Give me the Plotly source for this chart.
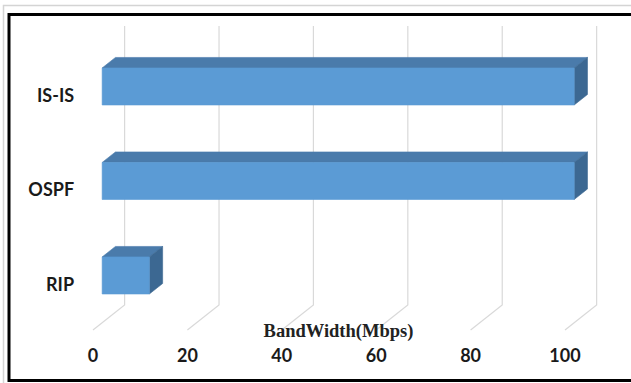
import plotly.graph_objects as go

# Data
categories = ["RIP", "OSPF", "IS-IS"]
bandwidth = [10, 100, 100]
tick_values = [0, 20, 40, 60, 80, 100]
tick_labels = ["0", "20", "40", "60", "80", "100"]
axis_title = "BandWidth(Mbps)"

# Figure size and oblique (pseudo-3D) projection settings, in data units
W, H = 631, 383
X_RANGE = [-19.70, 113.98]
Y_RANGE = [-1.061, 2.992]
DX, DY = 6.7, 0.265          # full floor depth shift (x in Mbps units, y in category units)
F0, F1 = 0.29, 0.71          # bar depth slab within the floor depth
HALF = 0.196                 # half thickness of a bar's front face
FLOOR = -0.5
WALL_TOP = 2.717

FRONT = "#5B9BD5"
TOP = "#4A7BAB"
SIDE = "#3C6892"
GRID = "#D9D9D9"

fig = go.Figure()

# Gridlines: floor diagonal + vertical line on the back wall for every tick
gx, gy = [], []
for v in tick_values:
    gx += [v, v + DX, v + DX, None]
    gy += [FLOOR, FLOOR + DY, WALL_TOP, None]
fig.add_trace(go.Scatter(x=gx, y=gy, mode="lines",
                         line=dict(color=GRID, width=1.2),
                         hoverinfo="skip", showlegend=False))


def face(xs, ys, color):
    fig.add_trace(go.Scatter(x=xs + [xs[0]], y=ys + [ys[0]], mode="lines",
                             fill="toself", fillcolor=color,
                             line=dict(color=color, width=0.6),
                             hoverinfo="skip", showlegend=False))


# 3D-looking horizontal bars
for i, (cat, val) in enumerate(zip(categories, bandwidth)):
    x0f, x1f = F0 * DX, val + F0 * DX
    yb, yt = i - HALF + F0 * DY, i + HALF + F0 * DY
    ddx, ddy = (F1 - F0) * DX, (F1 - F0) * DY
    # top face
    face([x0f, x1f, x1f + ddx, x0f + ddx], [yt, yt, yt + ddy, yt + ddy], TOP)
    # right side face
    face([x1f, x1f + ddx, x1f + ddx, x1f], [yb, yb + ddy, yt + ddy, yt], SIDE)
    # front face
    face([x0f, x1f, x1f, x0f], [yb, yb, yt, yt], FRONT)

label_font = dict(family="Lato", size=18, color="#1A1A1A", weight="bold")

# Category labels
fig.add_trace(go.Scatter(x=[-4.0] * len(categories),
                         y=[i - 0.035 for i in range(len(categories))],
                         mode="text", text=categories, textposition="middle left",
                         textfont=label_font, hoverinfo="skip", showlegend=False))

# Value-axis tick labels
fig.add_trace(go.Scatter(x=tick_values, y=[-0.786] * len(tick_values),
                         mode="text", text=tick_labels, textposition="middle center",
                         textfont=label_font, hoverinfo="skip", showlegend=False))

# Axis title
fig.add_trace(go.Scatter(x=[52], y=[-0.53], mode="text", text=[axis_title],
                         textposition="middle center",
                         textfont=dict(family="Liberation Serif", size=18.5,
                                       color="#222222", weight="bold"),
                         hoverinfo="skip", showlegend=False))

# Frames around the chart
fig.add_shape(type="rect", xref="paper", yref="paper",
              x0=3.5 / W, x1=1.05, y0=-0.05, y1=1 - 5.5 / H,
              line=dict(color="#D4D4D4", width=1.5), layer="below")
fig.add_shape(type="rect", xref="paper", yref="paper",
              x0=9 / W, x1=1.05, y0=1 - 380.5 / H, y1=1 - 14.5 / H,
              line=dict(color="#000000", width=3), layer="above")

fig.update_layout(
    width=W, height=H,
    margin=dict(l=0, r=0, t=0, b=0),
    paper_bgcolor="white", plot_bgcolor="white",
    xaxis=dict(range=X_RANGE, visible=False, fixedrange=True),
    yaxis=dict(range=Y_RANGE, visible=False, fixedrange=True),
    showlegend=False,
)

fig.write_html("out.html")
